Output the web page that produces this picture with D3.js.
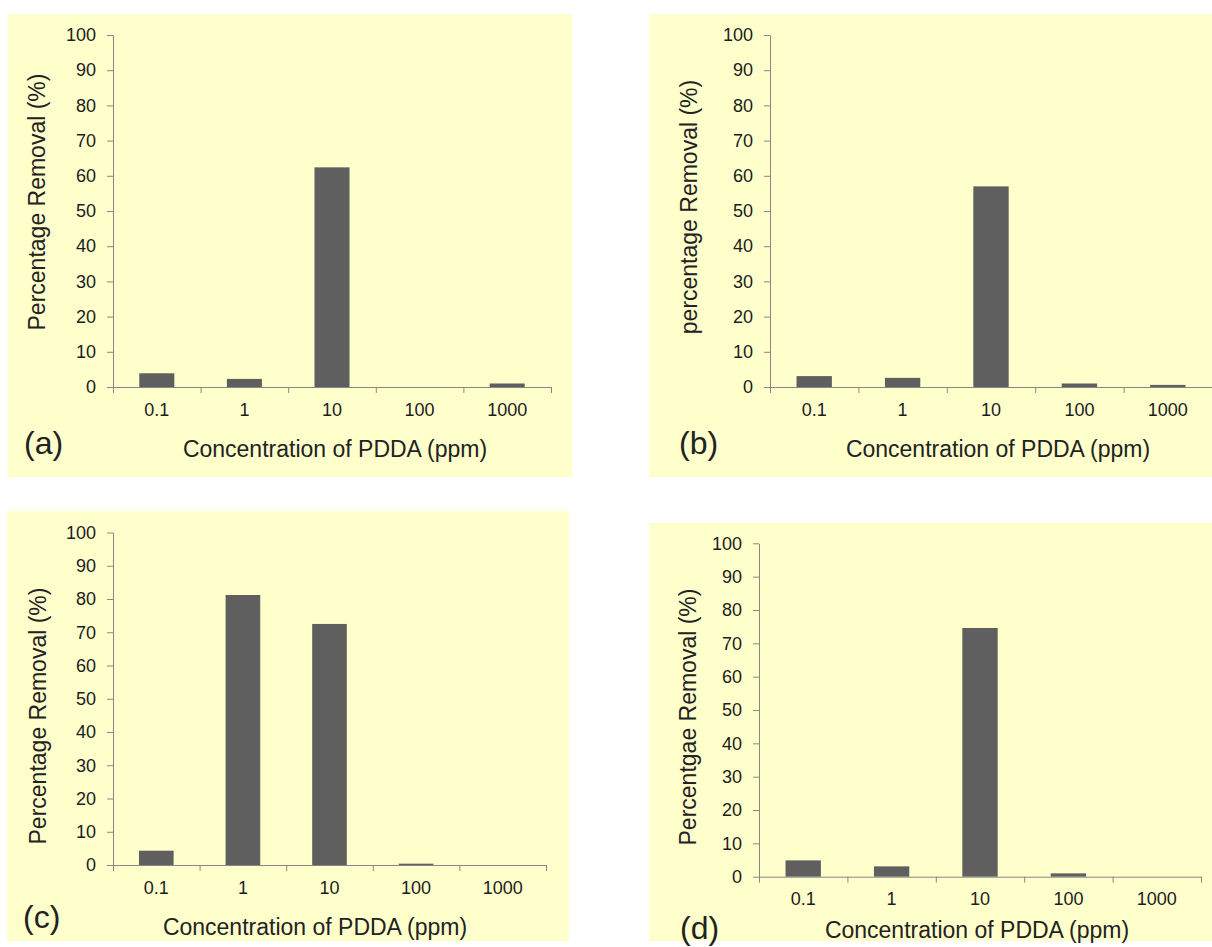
<!DOCTYPE html>
<html>
<head>
<meta charset="utf-8">
<script src="https://cdn.jsdelivr.net/npm/d3@7"></script>
<style>
  body { margin: 0; background: #fff; }
  svg { display: block; font-family: "Liberation Sans", Arial, sans-serif; }
</style>
</head>
<body>
<svg id="chart" width="1212" height="947"></svg>
<script>
// values (percentage removal)
const categories = ['0.1', '1', '10', '100', '1000'];
const removalA = [3.9, 2.3, 62.4, 0, 1.0];
const removalB = [3.1, 2.6, 57.0, 1.0, 0.6];
const removalC = [4.3, 81.2, 72.5, 0.4, 0];
const removalD = [4.9, 3.1, 74.6, 1.0, 0];
const yTicks = d3.range(0, 101, 10);
const xTitle = 'Concentration of PDDA (ppm)';

// layout of each panel (background box, plot area, text anchors)
const panels = [
  { tag: '(a)', values: removalA, yTitle: 'Percentage Removal (%)',
    bg: [7.5, 14, 572, 477], left: 113, right: 551, bottom: 387, top: 35,
    yTitlePos: [45, 202], xTitlePos: [335, 457], tagPos: [24, 454] },
  { tag: '(b)', values: removalB, yTitle: 'percentage Removal (%)',
    bg: [649.5, 14, 1212, 477], left: 770, right: 1212, bottom: 387, top: 35,
    yTitlePos: [697, 207], xTitlePos: [998, 457], tagPos: [679, 454] },
  { tag: '(c)', values: removalC, yTitle: 'Percentage Removal (%)',
    bg: [7, 511, 569, 941], left: 113, right: 546, bottom: 865, top: 532.5,
    yTitlePos: [46, 716], xTitlePos: [315, 935], tagPos: [23, 928] },
  { tag: '(d)', values: removalD, yTitle: 'Percentgae Removal (%)',
    bg: [649.5, 523, 1212, 941], left: 759, right: 1201, bottom: 876.7, top: 543.3,
    yTitlePos: [696, 717], xTitlePos: [977, 938], tagPos: [680, 939] }
];

const svg = d3.select('#chart');
const axisColor = '#878787';

panels.forEach(p => {
  const g = svg.append('g');
  const [bx0, by0, bx1, by1] = p.bg;
  g.append('rect').attr('x', bx0).attr('y', by0)
    .attr('width', bx1 - bx0).attr('height', by1 - by0)
    .attr('fill', '#ffffcc');

  const x = d3.scaleBand().domain(categories).range([p.left, p.right])
    .paddingInner(0.6).paddingOuter(0.3);
  const xEdge = d3.scaleLinear().domain([0, categories.length]).range([p.left, p.right]);
  const y = d3.scaleLinear().domain([0, 100]).range([p.bottom, p.top]);

  // bars
  g.append('g').selectAll('rect').data(p.values).enter().append('rect')
    .attr('x', (d, i) => x(categories[i]))
    .attr('y', d => y(d))
    .attr('width', x.bandwidth())
    .attr('height', d => y(0) - y(d))
    .attr('fill', '#5f5f5f');

  // y axis
  const ya = g.append('g').attr('transform', `translate(${p.left},0)`)
    .call(d3.axisLeft(y).tickValues(yTicks).tickSize(6).tickSizeOuter(0).tickPadding(11));
  // x axis: ticks on category boundaries
  const xa = g.append('g').attr('transform', `translate(0,${p.bottom})`)
    .call(d3.axisBottom(xEdge).tickValues(d3.range(0, categories.length + 1))
      .tickSize(6).tickSizeOuter(0).tickFormat(''));
  // x category labels
  const xl = g.append('g').attr('transform', `translate(0,${p.bottom})`)
    .call(d3.axisBottom(x).tickSize(0).tickPadding(16));
  xl.select('.domain').remove();

  [ya, xa].forEach(a => {
    a.select('.domain').attr('stroke', axisColor);
    a.selectAll('.tick line').attr('stroke', axisColor);
  });
  [ya, xl].forEach(a => {
    a.selectAll('.tick text').attr('font-size', 18).attr('fill', '#1c1c1c')
      .attr('font-family', '"Liberation Sans", Arial, sans-serif');
  });

  g.append('text')
    .attr('transform', `translate(${p.yTitlePos[0]},${p.yTitlePos[1]}) rotate(-90)`)
    .attr('text-anchor', 'middle').attr('font-size', 23).attr('fill', '#222')
    .text(p.yTitle);

  g.append('text').attr('x', p.xTitlePos[0]).attr('y', p.xTitlePos[1])
    .attr('text-anchor', 'middle').attr('font-size', 23).attr('fill', '#222')
    .text(xTitle);

  g.append('text').attr('x', p.tagPos[0]).attr('y', p.tagPos[1])
    .attr('font-size', 32).attr('fill', '#222')
    .text(p.tag);
});
</script>
</body>
</html>
